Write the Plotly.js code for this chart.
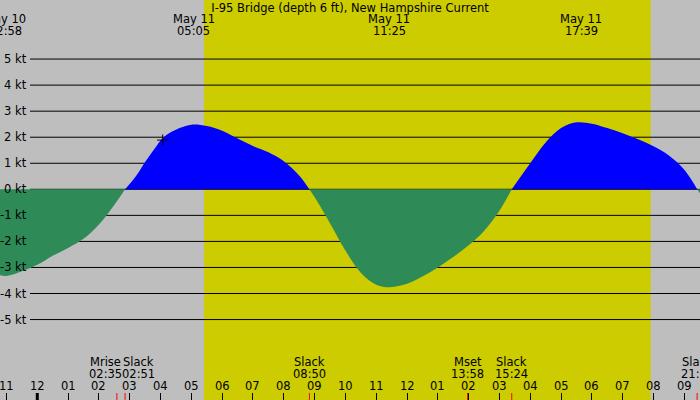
<!DOCTYPE html>
<html>
<head>
<meta charset="utf-8">
<script src="https://cdn.plot.ly/plotly-3.0.1.min.js"></script>
<style>
  html, body { margin: 0; padding: 0; background: #bebebe; }
  #chart { width: 700px; height: 400px; }
</style>
</head>
<body>
<div id="chart"></div>
<script>
// current in knots, time in hours after midnight May 11 (negative = May 10)
var hours = [-1.21, -1.0, -0.5, 0, 0.5, 1.0, 1.5, 2.0, 2.5, 2.85,
             3.2, 3.5, 3.8, 4.1, 4.5, 5.0, 5.5, 6.0, 6.5, 7.0, 7.5, 8.0, 8.5, 8.83,
             9.0, 9.5, 10.0, 10.5, 11.0, 11.45, 12.0, 12.5, 13.0, 13.5, 14.0, 14.5, 15.0, 15.4,
             16.0, 16.5, 17.0, 17.5, 18.0, 18.5, 19.0, 19.5, 20.0, 20.5, 21.0, 21.42, 21.51];
var knots = [-3.3, -3.33, -3.15, -2.9, -2.55, -2.25, -1.9, -1.35, -0.6, 0,
             0.5, 1.05, 1.55, 2.0, 2.29, 2.48, 2.43, 2.25, 1.95, 1.66, 1.42, 1.08, 0.53, 0,
             -0.3, -1.3, -2.35, -3.2, -3.66, -3.76, -3.63, -3.35, -3.0, -2.6, -2.15, -1.6, -0.82, 0,
             1.0, 1.8, 2.35, 2.57, 2.52, 2.35, 2.15, 1.92, 1.65, 1.3, 0.75, 0, -0.15];

var hourTicks = [-1, 0, 1, 2, 3, 4, 5, 6, 7, 8, 9, 10, 11, 12, 13, 14, 15, 16, 17, 18, 19, 20, 21];
var hourLabels = ["11", "12", "01", "02", "03", "04", "05", "06", "07", "08", "09", "10",
                  "11", "12", "01", "02", "03", "04", "05", "06", "07", "08", "09"];

// max flood / max ebb
var extremeTimes = [-1.033, 5.083, 11.417, 17.65];
var extremeDates = ["May 10", "May 11", "May 11", "May 11"];
var extremeLabels = ["22:58", "05:05", "11:25", "17:39"];

// slack water and moon events
var eventTimes = [2.583, 2.85, 8.833, 13.967, 15.4, 21.417];
var eventNames = ["Mrise", "Slack", "Slack", "Mset", "Slack", "Slack"];
var eventLabels = ["02:35", "02:51", "08:50", "13:58", "15:24", "21:25"];

var sunrise = 5.41;
var sunset = 19.91;

var gridKnots = [5, 4, 3, 2, 1, 0, -1, -2, -3, -4, -5];
var gridLabels = ["5 kt", "4 kt", "3 kt", "2 kt", "1 kt", "0 kt", "-1 kt", "-2 kt", "-3 kt", "-4 kt", "-5 kt"];

var nowTime = [4.07];
var nowKnots = [1.89];

var W = 700, H = 400;
var font = "DejaVu Sans, sans-serif";
var fs = 11.5;

// split into flood (>= 0) and ebb (<= 0) pieces
var flood = knots.map(function (v) { return v >= 0 ? v : null; });
var ebb = knots.map(function (v) { return v <= 0 ? v : null; });

var floodTrace = {
  x: hours, y: flood, type: "scatter", mode: "lines",
  line: { shape: "spline", smoothing: 1, width: 0, color: "#0000ff" },
  fill: "tozeroy", fillcolor: "#0000ff", hoverinfo: "skip"
};
var ebbTrace = {
  x: hours, y: ebb, type: "scatter", mode: "lines",
  line: { shape: "spline", smoothing: 1, width: 0, color: "#2e8b57" },
  fill: "tozeroy", fillcolor: "#2e8b57", hoverinfo: "skip"
};
var nowTrace = {
  x: nowTime, y: nowKnots, type: "scatter", mode: "markers",
  marker: { symbol: "cross-thin-open", size: 8, color: "black", line: { color: "black", width: 1 } },
  hoverinfo: "skip"
};

var shapes = [];
// daylight
shapes.push({
  type: "rect", layer: "below", xref: "x", yref: "paper",
  x0: sunrise, x1: sunset, y0: 0, y1: 1,
  fillcolor: "#cccc00", line: { width: 0 }
});
// knot lines
gridKnots.forEach(function (k) {
  shapes.push({
    type: "line", layer: "below", xref: "paper", yref: "y",
    x0: 30 / W, x1: 1, y0: k, y1: k,
    line: { color: "black", width: 1 }
  });
});
// midnight tick, heavy
shapes.push({
  type: "line", xref: "x", yref: "paper", x0: 0, x1: 0, y0: 0, y1: 7 / H,
  line: { color: "black", width: 3 }
});
// event ticks in red
eventTimes.forEach(function (t) {
  shapes.push({
    type: "line", xref: "x", yref: "paper", x0: t, x1: t, y0: 0, y1: 7 / H,
    line: { color: "red", width: 1 }
  });
});

var annotations = [];
function label(xref, yref, x, y, text, xanchor, xshift) {
  annotations.push({
    xref: xref, yref: yref, x: x, y: y, xshift: xshift || 0,
    xanchor: xanchor || "center", yanchor: "middle", borderpad: 0,
    text: text, showarrow: false, font: { family: font, size: fs, color: "black" }
  });
}
gridKnots.forEach(function (k, i) {
  label("paper", "y", 28 / W, k, gridLabels[i], "right");
});
hourTicks.forEach(function (h, i) {
  label("x", "paper", h, 1 - 385.5 / H, hourLabels[i]);
});
extremeTimes.forEach(function (t, i) {
  label("x", "paper", t, 1 - 19.5 / H, extremeDates[i]);
  label("x", "paper", t, 1 - 31.5 / H, extremeLabels[i]);
});
// moonrise and first slack are close together, push them apart
var nudge = { 0: -11.5, 1: 13.5 };
eventTimes.forEach(function (t, i) {
  label("x", "paper", t, 1 - 362 / H, eventNames[i], "center", nudge[i]);
  label("x", "paper", t, 1 - 374 / H, eventLabels[i], "center", nudge[i]);
});

var layout = {
  width: W,
  height: H,
  margin: { l: 0, r: 0, t: 0, b: 0 },
  paper_bgcolor: "#bebebe",
  plot_bgcolor: "#bebebe",
  showlegend: false,
  title: {
    text: "I-95 Bridge (depth 6 ft), New Hampshire Current",
    font: { family: font, size: fs, color: "black" },
    x: 0.5, xanchor: "center", y: 1 - 8 / H, yanchor: "middle"
  },
  xaxis: {
    range: [-1.21, 21.51],
    showgrid: false, zeroline: false, showline: false,
    tickmode: "array", tickvals: hourTicks,
    ticks: "inside", ticklen: 7, tickwidth: 1, tickcolor: "black",
    showticklabels: false
  },
  yaxis: {
    range: [-8.088, 7.267],
    showgrid: false, zeroline: false, showline: false,
    showticklabels: false, ticks: ""
  },
  shapes: shapes,
  annotations: annotations
};

Plotly.newPlot("chart", [floodTrace, ebbTrace, nowTrace], layout, { staticPlot: true });
</script>
</body>
</html>
